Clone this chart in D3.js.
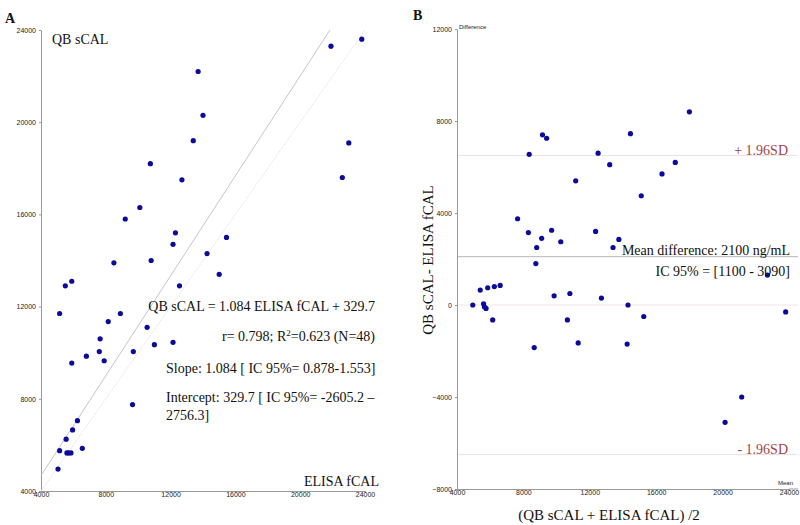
<!DOCTYPE html>
<html><head><meta charset="utf-8">
<script src="https://cdnjs.cloudflare.com/ajax/libs/d3/7.8.5/d3.min.js"></script>
<style>
body{margin:0;background:#fff;}
svg{display:block;}
.tick text{font-family:"Liberation Sans",Arial,sans-serif;font-size:7px;fill:#222;}
.serif{font-family:"Liberation Serif","Times New Roman",serif;}
</style></head><body>
<svg id="c" width="800" height="525"></svg>
<script>
// Panel A: ELISA fCAL (x) vs QB sCAL (y)
const elisaA = [21900,23800,13700,14000,13400,23000,10750,22600,12700,10100,9200,12300,12150,15450,8500,10800,14250,15000,5500,5900,12550,5150,8900,8150,10550,7650,11000,12150,7600,6800,9700,7900,5900,9650,6250,5950,5550,5150,5700,5850,6550,5050,5600];
const qbA    = [23300,23600,22200,20300,19200,19100,18200,17600,17500,16300,15800,15200,14700,15000,13900,14000,14300,13400,12900,13100,12900,11700,11700,11350,11100,10600,10350,10450,10050,9850,10050,9650,9550,7750,7050,6650,6250,5750,5650,5650,5850,4950,5650];
const ticksA = [4000,8000,12000,16000,20000,24000];
const regSlope = 1.084, regIntercept = 329.7;

// Panel B: Bland-Altman
const meanB = [18000,9150,9400,14450,8350,12500,13200,17150,16350,11150,15100,7650,8300,9100,9700,10250,8800,8750,12350,13750,13400,22700,5400,5850,6250,6600,4950,5600,5650,5750,9850,10800,12700,14300,6150,10650,15250,23800,8650,11300,14250,21150,20150];
const diffB = [8400,7400,7250,7450,6550,6600,6100,6200,5700,5400,4750,3750,3150,2900,3250,2750,2500,1800,3200,2850,2500,1300,650,750,800,850,0,50,-80,-150,400,500,300,0,-650,-650,-500,-300,-1850,-1650,-1700,-4000,-5100];
const ticksBx = [4000,8000,12000,16000,20000,24000];
const ticksBy = [-8000,-4000,0,4000,8000,12000];
const meanDiff = 2100, upperLoA = 6500, lowerLoA = -6500;

const svg = d3.select("#c");
const dotColor = "#0a0a9c";

// ---------- Panel A ----------
const xA = d3.scaleLinear().domain([4000,24000]).range([41,365]);
const yA = d3.scaleLinear().domain([4000,24000]).range([491,30]);
const gA = svg.append("g");
gA.append("g").attr("transform","translate(0,491)")
  .call(d3.axisBottom(xA).tickValues(ticksA).tickFormat(d3.format("d")).tickSize(2).tickSizeOuter(0))
  .call(g=>g.select(".domain").attr("stroke","#999"))
  .call(g=>g.selectAll(".tick line").attr("stroke","#999"))
  .call(g=>g.selectAll(".tick text").attr("dy","0.2em"));
gA.append("g").attr("transform","translate(41,0)")
  .call(d3.axisLeft(yA).tickValues(ticksA).tickFormat(d3.format("d")).tickSize(2).tickSizeOuter(0))
  .call(g=>g.select(".domain").attr("stroke","#999"))
  .call(g=>g.selectAll(".tick line").attr("stroke","#999"));
// identity line
gA.append("line").attr("x1",xA(4000)).attr("y1",yA(4000)).attr("x2",xA(24000)).attr("y2",yA(24000))
  .attr("stroke","#eee4e4").attr("stroke-width",1).attr("stroke-dasharray","2,1");
// regression line
const xEnd = (24000-regIntercept)/regSlope;
gA.append("line").attr("x1",xA(4000)).attr("y1",yA(regSlope*4000+regIntercept))
  .attr("x2",xA(xEnd)).attr("y2",yA(24000)).attr("stroke","#c6c6c6").attr("stroke-width",1);
gA.selectAll("circle.a").data(elisaA.map((v,i)=>[v,qbA[i]])).join("circle")
  .attr("class","a").attr("cx",d=>xA(d[0])).attr("cy",d=>yA(d[1])).attr("r",2.6).attr("fill",dotColor);

const tA = gA.append("g").attr("class","serif").attr("fill","#111");
tA.append("text").attr("x",5).attr("y",23).attr("font-size",14).attr("font-weight","bold").text("A");
tA.append("text").attr("x",52).attr("y",44).attr("font-size",14).text("QB sCAL");
tA.append("text").attr("x",375).attr("y",311).attr("font-size",14).attr("text-anchor","end").text("QB sCAL = 1.084 ELISA fCAL + 329.7");
const rt = tA.append("text").attr("x",375).attr("y",341).attr("font-size",14).attr("text-anchor","end");
rt.append("tspan").text("r= 0.798; R");
rt.append("tspan").attr("font-size",9).attr("dy",-5).text("2");
rt.append("tspan").attr("dy",5).text("=0.623 (N=48)");
tA.append("text").attr("x",166).attr("y",373).attr("font-size",14).text("Slope: 1.084 [ IC 95%= 0.878-1.553]");
tA.append("text").attr("x",166).attr("y",402).attr("font-size",14).text("Intercept: 329.7 [ IC 95%= -2605.2 \u2013");
tA.append("text").attr("x",166).attr("y",420).attr("font-size",14).text("2756.3]");
tA.append("text").attr("x",379).attr("y",486).attr("font-size",14).attr("text-anchor","end").text("ELISA fCAL");

// ---------- Panel B ----------
const xB = d3.scaleLinear().domain([4000,24000]).range([457,789]);
const yB = d3.scaleLinear().domain([-8000,12000]).range([489,29]);
const gB = svg.append("g");
// reference lines
[[upperLoA,"#f0e2e2"],[0,"#f2e4e4"],[lowerLoA,"#f0e2e2"],[meanDiff,"#b5b5b5"]].forEach(([v,c])=>{
  gB.append("line").attr("x1",xB(4000)).attr("x2",798).attr("y1",yB(v)).attr("y2",yB(v))
    .attr("stroke",c).attr("stroke-width",1);
});
gB.append("g").attr("transform","translate(0,489)")
  .call(d3.axisBottom(xB).tickValues(ticksBx).tickFormat(d3.format("d")).tickSize(2).tickSizeOuter(0))
  .call(g=>g.select(".domain").attr("stroke","#999"))
  .call(g=>g.selectAll(".tick line").attr("stroke","#999"))
  .call(g=>g.selectAll(".tick text").attr("dy","0.2em"));
gB.append("line").attr("x1",xB(24000)).attr("x2",798).attr("y1",489).attr("y2",489).attr("stroke","#999");
gB.append("g").attr("transform","translate(457,0)")
  .call(d3.axisLeft(yB).tickValues(ticksBy).tickFormat(d3.format("d")).tickSize(2).tickSizeOuter(0))
  .call(g=>g.select(".domain").attr("stroke","#999"))
  .call(g=>g.selectAll(".tick line").attr("stroke","#999"));
gB.selectAll("circle.b").data(meanB.map((v,i)=>[v,diffB[i]])).join("circle")
  .attr("class","b").attr("cx",d=>xB(d[0])).attr("cy",d=>yB(d[1])).attr("r",2.6).attr("fill",dotColor);

gB.append("text").attr("x",459).attr("y",29).attr("font-size",6).attr("font-family","Liberation Sans, Arial, sans-serif").attr("fill","#222").text("Difference");
gB.append("text").attr("x",778).attr("y",485).attr("font-size",6).attr("font-family","Liberation Sans, Arial, sans-serif").attr("fill","#222").text("Mean");
const tB = gB.append("g").attr("class","serif").attr("fill","#111");
tB.append("text").attr("x",413).attr("y",20).attr("font-size",14).attr("font-weight","bold").text("B");
tB.append("text").attr("x",788).attr("y",yB(upperLoA)-1).attr("font-size",14).attr("text-anchor","end").attr("fill","#a04545").text("+ 1.96SD");
tB.append("text").attr("x",788).attr("y",yB(lowerLoA)-1).attr("font-size",14).attr("text-anchor","end").attr("fill","#a04545").text("- 1.96SD");
tB.append("text").attr("x",790).attr("y",255).attr("font-size",14).attr("text-anchor","end").text("Mean difference: 2100 ng/mL");
tB.append("text").attr("x",790).attr("y",276).attr("font-size",14).attr("text-anchor","end").text("IC 95% = [1100 - 3090]");
tB.append("text").attr("transform","translate(433,260) rotate(-90)").attr("font-size",15).attr("text-anchor","middle").text("QB sCAL- ELISA fCAL");
tB.append("text").attr("x",609).attr("y",520).attr("font-size",15).attr("text-anchor","middle").text("(QB sCAL + ELISA fCAL) /2");
</script>
</body></html>
